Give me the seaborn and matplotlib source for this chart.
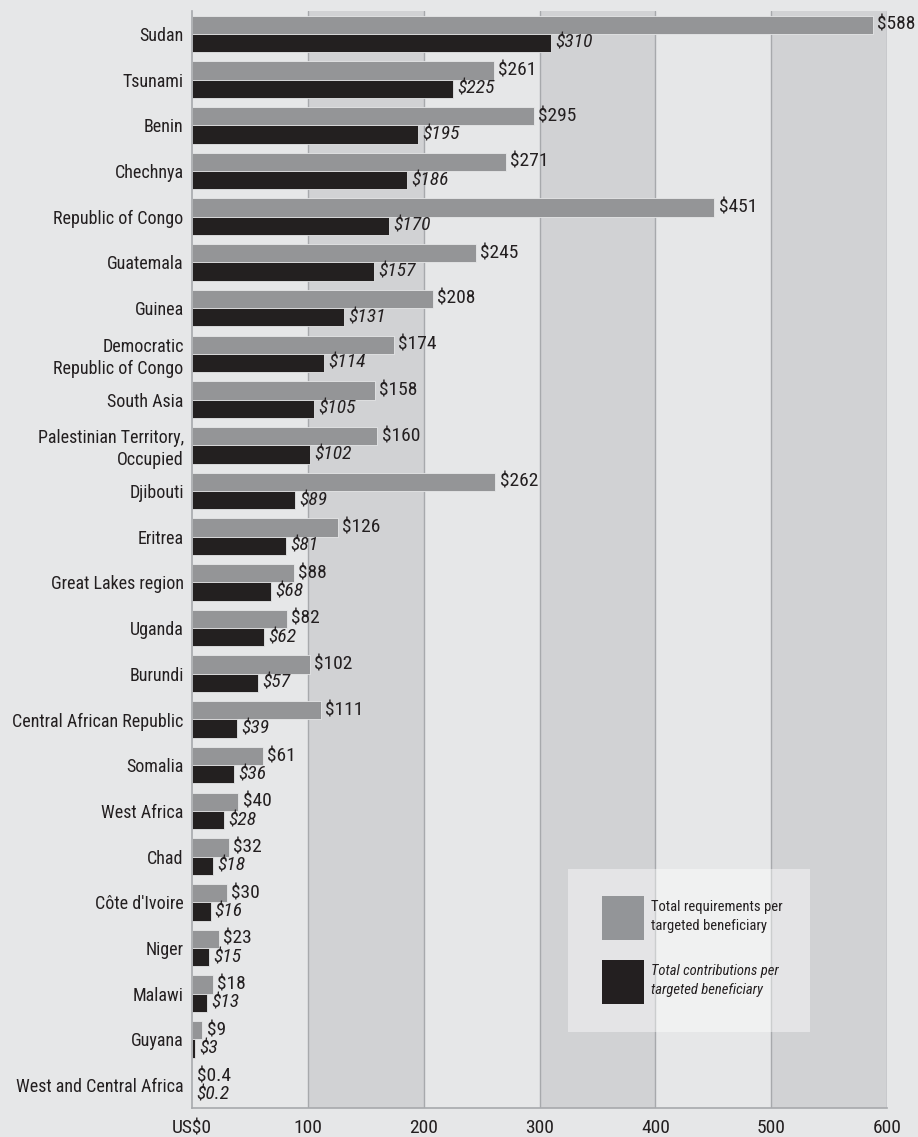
import matplotlib
matplotlib.use("Agg")
import matplotlib.pyplot as plt
from matplotlib import font_manager
from matplotlib.patches import Patch, Rectangle
import numpy as np
import pandas as pd
import seaborn as sns

# Per-beneficiary requirements vs contributions (US$)
regions = [
    "Sudan", "Tsunami", "Benin", "Chechnya", "Republic of Congo", "Guatemala",
    "Guinea", "Democratic\nRepublic of Congo", "South Asia",
    "Palestinian Territory,\nOccupied", "Djibouti", "Eritrea",
    "Great Lakes region", "Uganda", "Burundi", "Central African Republic",
    "Somalia", "West Africa", "Chad", "Côte d'Ivoire", "Niger", "Malawi",
    "Guyana", "West and Central Africa",
]
requirements = [588, 261, 295, 271, 451, 245, 208, 174, 158, 160, 262, 126,
                88, 82, 102, 111, 61, 40, 32, 30, 23, 18, 9, 0.4]
contributions = [310, 225, 195, 186, 170, 157, 131, 114, 105, 102, 89, 81,
                 68, 62, 57, 39, 36, 28, 18, 16, 15, 13, 3, 0.2]
series_names = ["Total requirements per\ntargeted beneficiary",
                "Total contributions per\ntargeted beneficiary"]
x_ticks = [0, 100, 200, 300, 400, 500, 600]
x_tick_labels = ["US$0", "100", "200", "300", "400", "500", "600"]

BG = "#e6e7e8"
BAND = "#d1d2d4"
GRID = "#a7a9ac"
GREY = "#939598"
BLACK = "#231f20"
TEXT = "#231f20"

sns.set_theme(style="white")

# pick a narrow face if one is installed
entries = font_manager.fontManager.ttflist
names = {f.name for f in entries}
family, stretch, yfs, vfs, lfs = "DejaVu Sans", "normal", 11, 11.5, 9
for cand in ("Roboto Condensed", "Liberation Sans Narrow", "Open Sans Condensed",
             "Noto Sans Condensed", "DejaVu Sans Condensed"):
    if cand in names:
        family, yfs, vfs, lfs = cand, 13, 14, 10.5
        break
else:
    if any(f.name == "DejaVu Sans" and f.stretch == "condensed" for f in entries):
        family, stretch, yfs, vfs, lfs = "DejaVu Sans", "condensed", 12, 12.5, 10
plt.rcParams["font.family"] = [family, "DejaVu Sans"]
plt.rcParams["font.stretch"] = stretch
plt.rcParams["text.color"] = TEXT

df = pd.DataFrame({
    "region": regions * 2,
    "value": requirements + contributions,
    "series": [series_names[0]] * len(regions) + [series_names[1]] * len(regions),
})

fig = plt.figure(figsize=(9.18, 11.37), dpi=100, facecolor=BG)
ax = fig.add_axes([192 / 918, 1 - 1108 / 1137, (887 - 192) / 918, (1108 - 11) / 1137])
ax.set_facecolor(BG)

# alternating shaded bands and vertical grid
for lo in (100, 300, 500):
    ax.axvspan(lo, lo + 100, color=BAND, zorder=0, lw=0)
for x in x_ticks[1:]:
    ax.axvline(x, color=GRID, lw=1, zorder=0.5)

sns.barplot(data=df, y="region", x="value", hue="series", orient="h",
            palette=[GREY, BLACK], width=0.8, ax=ax, legend=False,
            edgecolor=BG, linewidth=0.6, zorder=2)

def fmt(v):
    return f"${v:g}"

containers = ax.containers
ax.bar_label(containers[0], labels=[fmt(v) for v in requirements],
             padding=3, fontsize=vfs, color=TEXT)
ax.bar_label(containers[1], labels=[fmt(v) for v in contributions],
             padding=3, fontsize=vfs, color=TEXT, style="italic")

ax.set_xlim(0, 600)
ax.set_ylim(len(regions) - 0.5, -0.5)
ax.set_xticks(x_ticks)
ax.set_xticklabels(x_tick_labels, fontsize=vfs, color=TEXT)
ax.tick_params(axis="y", labelsize=yfs, colors=TEXT, length=0, pad=6)
ax.tick_params(axis="x", length=0, pad=8, colors=TEXT)
ax.set_xlabel("")
ax.set_ylabel("")
for lab in ax.get_yticklabels():
    lab.set_multialignment("right")
    lab.set_linespacing(1.3)

for side in ("top", "right"):
    ax.spines[side].set_visible(False)
for side in ("left", "bottom"):
    ax.spines[side].set_color(GRID)
    ax.spines[side].set_linewidth(1.2)

# legend panel
ax.add_patch(Rectangle((0.541, 0.069), 0.348, 0.149, transform=ax.transAxes,
                       facecolor="white", alpha=0.42, lw=0, zorder=3))
handles = [Patch(facecolor=GREY, edgecolor="none"),
           Patch(facecolor=BLACK, edgecolor="none")]
leg = ax.legend(handles, series_names, loc="center left",
                bbox_to_anchor=(0.5705, 0.1440),
                frameon=False, fontsize=lfs, handlelength=2.9, handleheight=4.2,
                handletextpad=0.5, labelspacing=1.4)
leg.set_zorder(4)
for t in leg.get_texts():
    t.set_linespacing(1.45)
leg.get_texts()[1].set_style("italic")

fig.savefig("out.png", dpi=100, facecolor=BG)
